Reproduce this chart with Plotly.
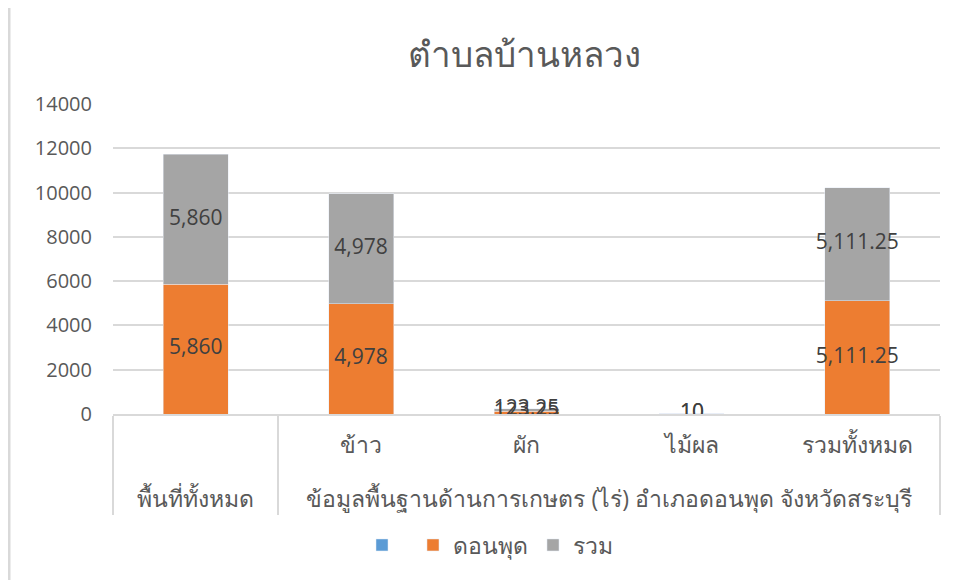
import plotly.graph_objects as go

GROUP = "ข้อมูลพื้นฐานด้านการเกษตร (ไร่) อำเภอดอนพุด จังหวัดสระบุรี"
outer = ["พื้นที่ทั้งหมด", GROUP, GROUP, GROUP, GROUP]
inner = ["", "ข้าว", "ผัก", "ไม้ผล", "รวมทั้งหมด"]
blank_vals = [None, None, None, None, None]
donphut = [5860, 4978, 123.25, 10, 5111.25]
ruam = [5860, 4978, 123.25, 10, 5111.25]
labels_d = ["5,860", "4,978", "123.25", "10", "5,111.25"]
labels_r = ["5,860", "4,978", "123.25", "10", "5,111.25"]
yticks = [0, 2000, 4000, 6000, 8000, 10000, 12000, 14000]

# push the outer category row down by one line, as in the reference
x = [["<br>" + o for o in outer], inner]
TXT = "#595959"
FONT = "Open Sans, Noto Sans, DejaVu Sans, sans-serif"

fig = go.Figure()
fig.add_trace(go.Bar(x=x, y=blank_vals, name=" ", marker_color="#5B9BD5"))
fig.add_trace(go.Bar(x=x, y=donphut, name="ดอนพุด", marker_color="#ED7D31"))
fig.add_trace(go.Bar(x=x, y=ruam, name="รวม", marker_color="#A5A5A5"))

# data labels at segment centres
cen_d = [v / 2 for v in donphut]
cen_r = [d + r / 2 for d, r in zip(donphut, ruam)]
for ys, ts in ((cen_d, labels_d), (cen_r, labels_r)):
    fig.add_trace(go.Scatter(x=x, y=ys, text=ts, mode="text", showlegend=False,
                             textfont=dict(size=21, color="#404040", family=FONT),
                             hoverinfo="skip"))

OFF = 8  # page body margin
L, R, T, B = 113 - OFF, 962 - (940 - OFF), 104 - OFF, 580 - (414 - OFF)
W, H = 962 - L - R, 580 - T - B
def px(xp):
    return (xp - OFF - L) / W
def py(yp):
    return (414 - yp) / H

fig.update_layout(
    width=962, height=580,
    margin=dict(l=L, r=R, t=T, b=B),
    barmode="stack", bargap=0.607,
    paper_bgcolor="white", plot_bgcolor="white",
    font=dict(family=FONT, color=TXT, size=20),
    title=dict(text="ตำบลบ้านหลวง", x=(524 - OFF) / 962, xanchor="center",
               y=1 - (55 - OFF) / 580, yanchor="middle",
               font=dict(size=35, color=TXT, family=FONT)),
    legend=dict(orientation="h", x=px(490), xanchor="center", y=py(545),
                yanchor="middle", font=dict(size=23, color=TXT), traceorder="normal"),
    shapes=[dict(type="rect", xref="paper", yref="paper",
                 x0=px(9), x1=px(985), y0=py(600), y1=py(5),
                 line=dict(color="#D9D9D9", width=3), layer="below")],
)
fig.update_yaxes(range=[0, 14000], tickvals=yticks, ticktext=[str(v) for v in yticks],
                 showgrid=True, gridcolor="#D9D9D9", gridwidth=1.5, zeroline=False,
                 showline=False, ticks="", ticklabelstandoff=20, automargin=False,
                 tickfont=dict(size=20, color=TXT))
fig.update_xaxes(type="multicategory", showgrid=False, showline=True, linecolor="#D9D9D9",
                 linewidth=1.5, showdividers=True, dividercolor="#D9D9D9", dividerwidth=1.5,
                 ticks="", ticklabelstandoff=10, automargin=False,
                 tickfont=dict(size=23, color=TXT))

fig.write_html("out.html")
